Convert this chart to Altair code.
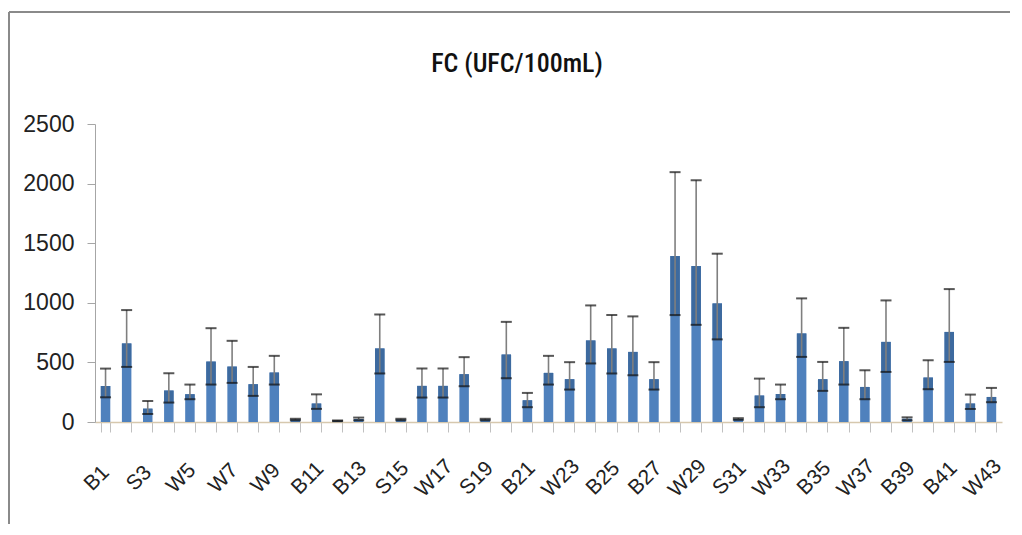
import altair as alt
import pandas as pd

# sample positions 1..43; only odd positions carry a printed label
positions = list(range(1, 44))
odd_labels = ["B1", "S3", "W5", "W7", "W9", "B11", "B13", "S15", "W17", "S19", "B21",
              "W23", "B25", "B27", "W29", "S31", "W33", "B35", "W37", "B39", "B41", "W43"]

mean = [302, 659, 112, 264, 233, 507, 465, 317, 415, 20, 155, 10, 25, 617, 20,
        303, 303, 401, 20, 566, 182, 412, 359, 684, 617, 588, 359, 1392, 1308, 995,
        25, 222, 235, 743, 359, 510, 294, 672, 27, 373, 756, 155, 210]
upper = [448, 939, 176, 409, 314, 787, 681, 462, 555, 27, 232, 13, 37, 902, 27,
         449, 449, 544, 27, 840, 244, 555, 502, 978, 897, 886, 502, 2096, 2028, 1412,
         32, 364, 314, 1037, 504, 790, 434, 1020, 39, 518, 1115, 230, 286]
lower = [207, 462, 67, 163, 191, 314, 328, 219, 314, 14, 110, 7, 14, 407, 14,
         205, 205, 300, 14, 367, 124, 314, 272, 491, 407, 392, 272, 897, 815, 693,
         18, 124, 191, 546, 261, 314, 191, 420, 14, 275, 504, 109, 166]

title_text = "FC (UFC/100mL)"

df = pd.DataFrame({"pos": positions, "mean": mean, "hi": upper, "lo": lower})

label_array = "[" + ",".join("'" + s + "'" for s in odd_labels) + "]"
label_expr = f"datum.value % 2 == 1 ? {label_array}[(datum.value - 1) / 2] : ''"

FONT = "Liberation Sans"
TITLE_FONT = "Roboto Condensed, Roboto, sans-serif"

x_enc = alt.X(
    "pos:O",
    scale=alt.Scale(paddingInner=0.55, paddingOuter=0.275),
    axis=alt.Axis(
        title=None,
        labelExpr=label_expr,
        labelAngle=-45,
        labelAlign="center",
        labelBaseline="middle",
        labelPadding=46,
        labelOffset=-9,
        labelFontSize=21,
        labelFont=FONT,
        labelColor="#222222",
        tickBand="extent",
        tickSize=10,
        tickColor="#c0c0c0",
        domainColor="#d6c8ae",
        domainWidth=1.5,
        labelOverlap=False,
    ),
)

y_scale = alt.Scale(domain=[0, 2500], nice=False)

base = alt.Chart(df)

bars = base.mark_bar(color="#4F81BD").encode(
    x=x_enc,
    y=alt.Y(
        "mean:Q",
        scale=y_scale,
        axis=alt.Axis(
            title=None,
            values=[0, 500, 1000, 1500, 2000, 2500],
            format="d",
            grid=False,
            tickSize=8,
            tickColor="#a6a6a6",
            domainColor="#a6a6a6",
            labelPadding=13,
            labelFontSize=23,
            labelFont=FONT,
            labelColor="#222222",
        ),
    ),
)

dark = base.mark_bar(color="#3D6A9F").encode(
    x="pos:O", y=alt.Y("lo:Q", scale=y_scale), y2="mean:Q"
)

rule = base.mark_rule(color="#7f7f7f", strokeWidth=1.6).encode(
    x="pos:O", y=alt.Y("lo:Q", scale=y_scale), y2="hi:Q"
)

cap_hi = base.mark_tick(color="#111111", thickness=2, size=11).encode(
    x="pos:O", y=alt.Y("hi:Q", scale=y_scale)
)
cap_lo = base.mark_tick(color="#111111", thickness=2, size=11).encode(
    x="pos:O", y=alt.Y("lo:Q", scale=y_scale)
)

one = pd.DataFrame({"t": [title_text]})

title = alt.Chart(one).mark_text(
    font=TITLE_FONT, fontSize=26, fontWeight=500, color="#111111",
    align="center", baseline="alphabetic"
).encode(text="t:N", x=alt.value(422), y=alt.value(-52))

# chart frame (left and top edges of the outer border)
frame_left = alt.Chart(one).mark_rule(color="#8a8a8a", strokeWidth=2).encode(
    x=alt.value(-86), y=alt.value(-112), y2=alt.value(400)
)
frame_top = alt.Chart(one).mark_rule(color="#8a8a8a", strokeWidth=2).encode(
    x=alt.value(-86), x2=alt.value(915), y=alt.value(-112)
)

chart = (
    alt.layer(bars, dark, rule, cap_hi, cap_lo, title, frame_left, frame_top)
    .properties(
        width=907,
        height=298,
        padding={"left": 0, "top": 3, "right": 0, "bottom": 0},
    )
    .configure_view(stroke=None)
)

chart.save("out.html", embed_options={"renderer": "svg", "actions": False})
